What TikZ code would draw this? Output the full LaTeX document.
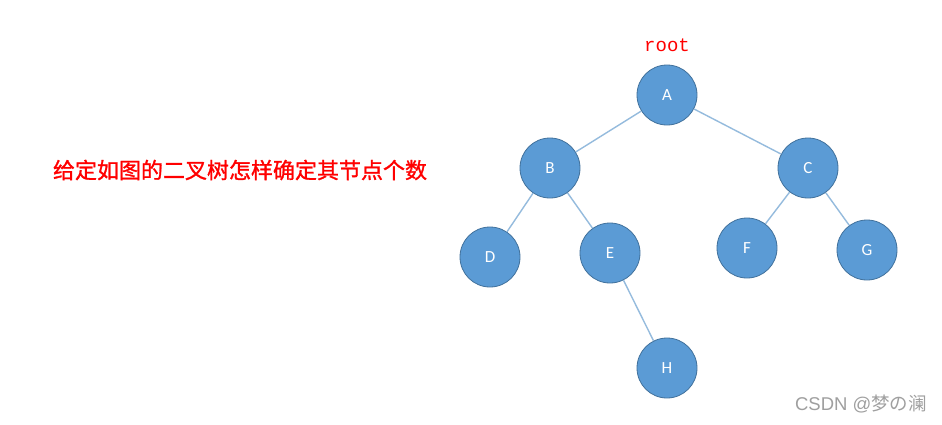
\documentclass[tikz,border=0pt]{standalone}
\usepackage{fontspec}
\setmainfont{Carlito}
\newfontfamily\cjkfont{Noto Sans CJK SC}
\newfontfamily\cjkbold[FakeBold=1.2]{Noto Sans CJK SC}
\newfontfamily\monofont{Liberation Mono}
\newfontfamily\wmfont{Liberation Sans}
\definecolor{nodefill}{HTML}{5B9BD5}
\definecolor{nodeline}{HTML}{41719C}
\definecolor{edgecol}{HTML}{95BBDD}
\definecolor{redtext}{HTML}{FF0000}
\begin{document}
\begin{tikzpicture}[x=1pt,y=-1pt,
  treenode/.style={circle,fill=nodefill,draw=nodeline,line width=0.8pt,minimum size=60pt,inner sep=0pt,text=white,font=\fontsize{17}{17}\selectfont},
  edge/.style={draw=edgecol,line width=1.4pt}]
\useasboundingbox (0,0) rectangle (942,424);
\fill[white] (0,0) rectangle (942,424);
\node[treenode] (A) at (667,95) {A};
\node[treenode] (B) at (550,168) {B};
\node[treenode] (C) at (808,168) {C};
\node[treenode] (D) at (490,257) {D};
\node[treenode] (E) at (610,253) {E};
\node[treenode] (F) at (747,248) {F};
\node[treenode] (G) at (867,250) {G};
\node[treenode] (H) at (667,368) {H};
\path[edge] (A) -- (B);
\path[edge] (A) -- (C);
\path[edge] (B) -- (D);
\path[edge] (B) -- (E);
\path[edge] (C) -- (F);
\path[edge] (C) -- (G);
\path[edge] (E) -- (H);
\node[text=redtext,font=\monofont\fontsize{19}{19}\selectfont] (root) at (667,45) {root};
\node[text=redtext,font=\cjkbold\fontsize{22}{22}\selectfont,inner sep=0pt] (q) at (240,170) {给定如图的二叉树怎样确定其节点个数};
\node[text=gray!75,font=\fontsize{18.5}{18.5}\selectfont,inner sep=0pt] (wm) at (861,404) {\wmfont CSDN @\cjkfont 梦の澜};
\end{tikzpicture}
\end{document}
